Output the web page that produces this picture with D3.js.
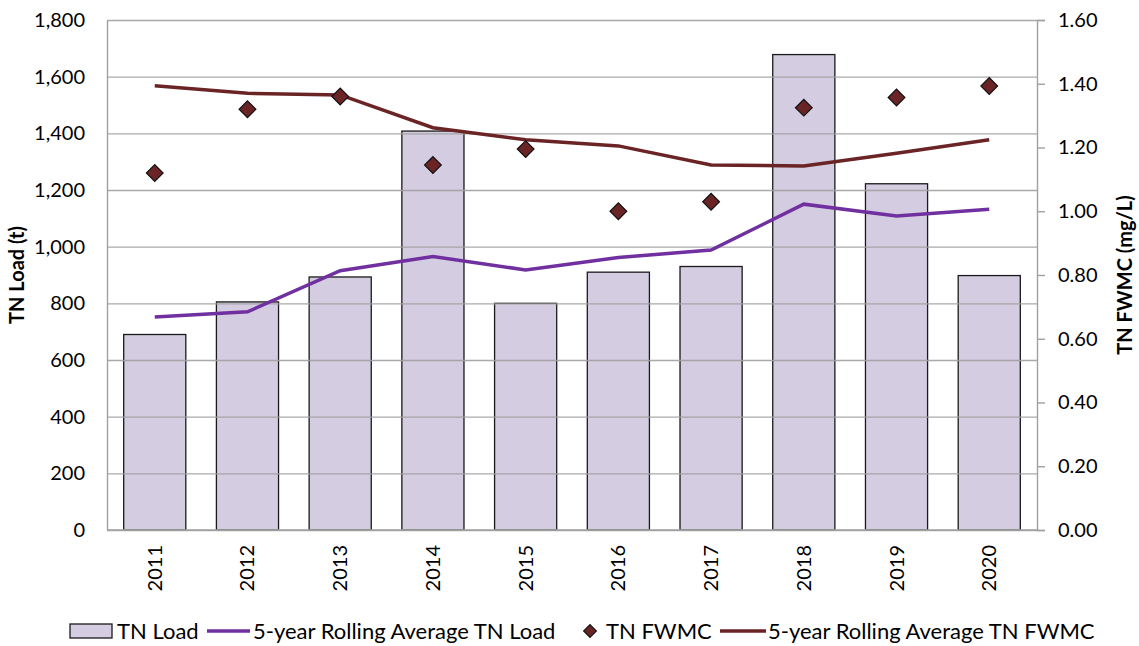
<!DOCTYPE html>
<html>
<head>
<meta charset="utf-8">
<script src="https://cdn.jsdelivr.net/npm/d3@7"></script>
<style>
  body { margin: 0; background: #fff; }
  text { font-family: Lato, "Open Sans", sans-serif; fill: #000; }
</style>
</head>
<body>
<div id="vis"></div>
<script>
// Values
const years = ['2011', '2012', '2013', '2014', '2015', '2016', '2017', '2018', '2019', '2020']
const tnLoad = [690, 805, 893, 1408, 800, 910, 930, 1678, 1222, 898]
const rollingLoad = [752, 770, 915, 965, 918, 962, 988, 1150, 1108, 1132]
const tnFwmc = [1.12, 1.32, 1.36, 1.145, 1.195, 1.0, 1.03, 1.325, 1.357, 1.393]
const rollingFwmc = [1.394, 1.370, 1.365, 1.262, 1.224, 1.205, 1.145, 1.142, 1.182, 1.224]
const leftTicks = [0, 200, 400, 600, 800, 1000, 1200, 1400, 1600, 1800]
const rightTicks = [0, 0.2, 0.4, 0.6, 0.8, 1.0, 1.2, 1.4, 1.6]

const margin = {left: 107, top: 20, right: 102, bottom: 116}
const W = 1139, H = 646
const width = W - margin.left - margin.right
const height = H - margin.top - margin.bottom

const purple = '#7030a0'
const brown = '#6b2426'
const barFill = '#d4cce1'
const gridColor = '#a0a0a0'

let svg = d3.select('#vis').append('svg')
    .attr('width', W)
    .attr('height', H)

let g = svg.append('g').attr('transform', `translate(${margin.left},${margin.top})`)

let x = d3.scaleBand(years, [0, width]).paddingInner(0.33).paddingOuter(0.18)
let xc = d => x(d) + x.bandwidth() / 2
let yL = d3.scaleLinear([0, 1800], [height, 0])
let yR = d3.scaleLinear([0, 1.6], [height, 0])

// bars
g.selectAll('.bar')
    .data(years)
    .enter()
    .append('rect')
        .attr('class', 'bar')
        .attr('x', d => x(d))
        .attr('width', x.bandwidth())
        .attr('y', (d, i) => yL(tnLoad[i]))
        .attr('height', (d, i) => height - yL(tnLoad[i]))
        .attr('fill', barFill)
        .attr('stroke', '#1a1a1a')
        .attr('stroke-width', 1.3)

// gridlines (drawn over the bars, as in the reference)
g.append('g')
    .call(d3.axisLeft(yL).tickValues(leftTicks).tickSize(-width).tickFormat(''))
    .call(a => a.select('.domain').remove())
    .call(a => a.selectAll('line').attr('stroke', gridColor).attr('stroke-width', 1.4).attr('stroke-opacity', 0.9))

// left axis
let leftAxis = g.append('g')
    .call(d3.axisLeft(yL).tickValues(leftTicks).tickSize(0).tickPadding(22).tickFormat(d3.format(',')))
leftAxis.select('.domain').attr('stroke', gridColor).attr('stroke-width', 1.4)
leftAxis.selectAll('text').attr('font-size', 20).style('font-family', 'Lato, sans-serif')

// right axis
let rightAxis = g.append('g')
    .attr('transform', `translate(${width},0)`)
    .call(d3.axisRight(yR).tickValues(rightTicks).tickSize(8).tickPadding(13).tickFormat(d3.format('.2f')))
rightAxis.select('.domain').attr('stroke', gridColor).attr('stroke-width', 1.4)
rightAxis.selectAll('line').attr('stroke', gridColor).attr('stroke-width', 1.4)
rightAxis.selectAll('text').attr('font-size', 20).style('font-family', 'Lato, sans-serif')

// bottom baseline
g.append('line')
    .attr('x1', 0).attr('x2', width)
    .attr('y1', height).attr('y2', height)
    .attr('stroke', gridColor).attr('stroke-width', 1.4)

// year labels
g.selectAll('.year')
    .data(years)
    .enter()
    .append('text')
        .attr('class', 'year')
        .attr('transform', d => `translate(${xc(d) + 7},${height + 15}) rotate(-90)`)
        .attr('text-anchor', 'end')
        .attr('font-size', 20)
        .text(d => d)

// lines
let lineLoad = d3.line().x((d, i) => xc(years[i])).y(d => yL(d))
let lineFwmc = d3.line().x((d, i) => xc(years[i])).y(d => yR(d))

g.append('path')
    .datum(rollingLoad)
    .attr('d', lineLoad)
    .attr('fill', 'none')
    .attr('stroke', purple)
    .attr('stroke-width', 3.5)

g.append('path')
    .datum(rollingFwmc)
    .attr('d', lineFwmc)
    .attr('fill', 'none')
    .attr('stroke', brown)
    .attr('stroke-width', 3.5)

// diamonds
let diamond = d3.symbol().type(d3.symbolSquare).size(140)
g.selectAll('.dia')
    .data(tnFwmc)
    .enter()
    .append('path')
        .attr('class', 'dia')
        .attr('d', diamond)
        .attr('transform', (d, i) => `translate(${xc(years[i])},${yR(d)}) rotate(45)`)
        .attr('fill', brown)
        .attr('stroke', '#111')
        .attr('stroke-width', 1.2)

// axis titles
svg.append('text')
    .attr('transform', `translate(24,${margin.top + height / 2}) rotate(-90)`)
    .attr('text-anchor', 'middle')
    .attr('font-size', 20)
    .attr('font-weight', 'bold')
    .text('TN Load (t)')

svg.append('text')
    .attr('transform', `translate(1132,${margin.top + height / 2}) rotate(-90)`)
    .attr('text-anchor', 'middle')
    .attr('font-size', 20)
    .attr('font-weight', 'bold')
    .text('TN FWMC (mg/L)')

// legend
let legend = svg.append('g').attr('transform', 'translate(0,631)')

legend.append('rect')
    .attr('x', 70).attr('y', -7).attr('width', 42).attr('height', 14)
    .attr('fill', barFill).attr('stroke', '#1a1a1a').attr('stroke-width', 1.3)
legend.append('text').attr('x', 117).attr('y', 8).attr('font-size', 22).text('TN Load')

legend.append('line')
    .attr('x1', 207).attr('x2', 250).attr('y1', 0).attr('y2', 0)
    .attr('stroke', purple).attr('stroke-width', 3.5)
legend.append('text').attr('x', 253).attr('y', 8).attr('font-size', 22).text('5-year Rolling Average TN Load')

legend.append('path')
    .attr('d', d3.symbol().type(d3.symbolSquare).size(80))
    .attr('transform', 'translate(590,0) rotate(45)')
    .attr('fill', brown).attr('stroke', '#111').attr('stroke-width', 1.2)
legend.append('text').attr('x', 606).attr('y', 8).attr('font-size', 22).text('TN FWMC')

legend.append('line')
    .attr('x1', 720).attr('x2', 766).attr('y1', 0).attr('y2', 0)
    .attr('stroke', brown).attr('stroke-width', 3.5)
legend.append('text').attr('x', 768).attr('y', 8).attr('font-size', 22).text('5-year Rolling Average TN FWMC')
</script>
</body>
</html>
